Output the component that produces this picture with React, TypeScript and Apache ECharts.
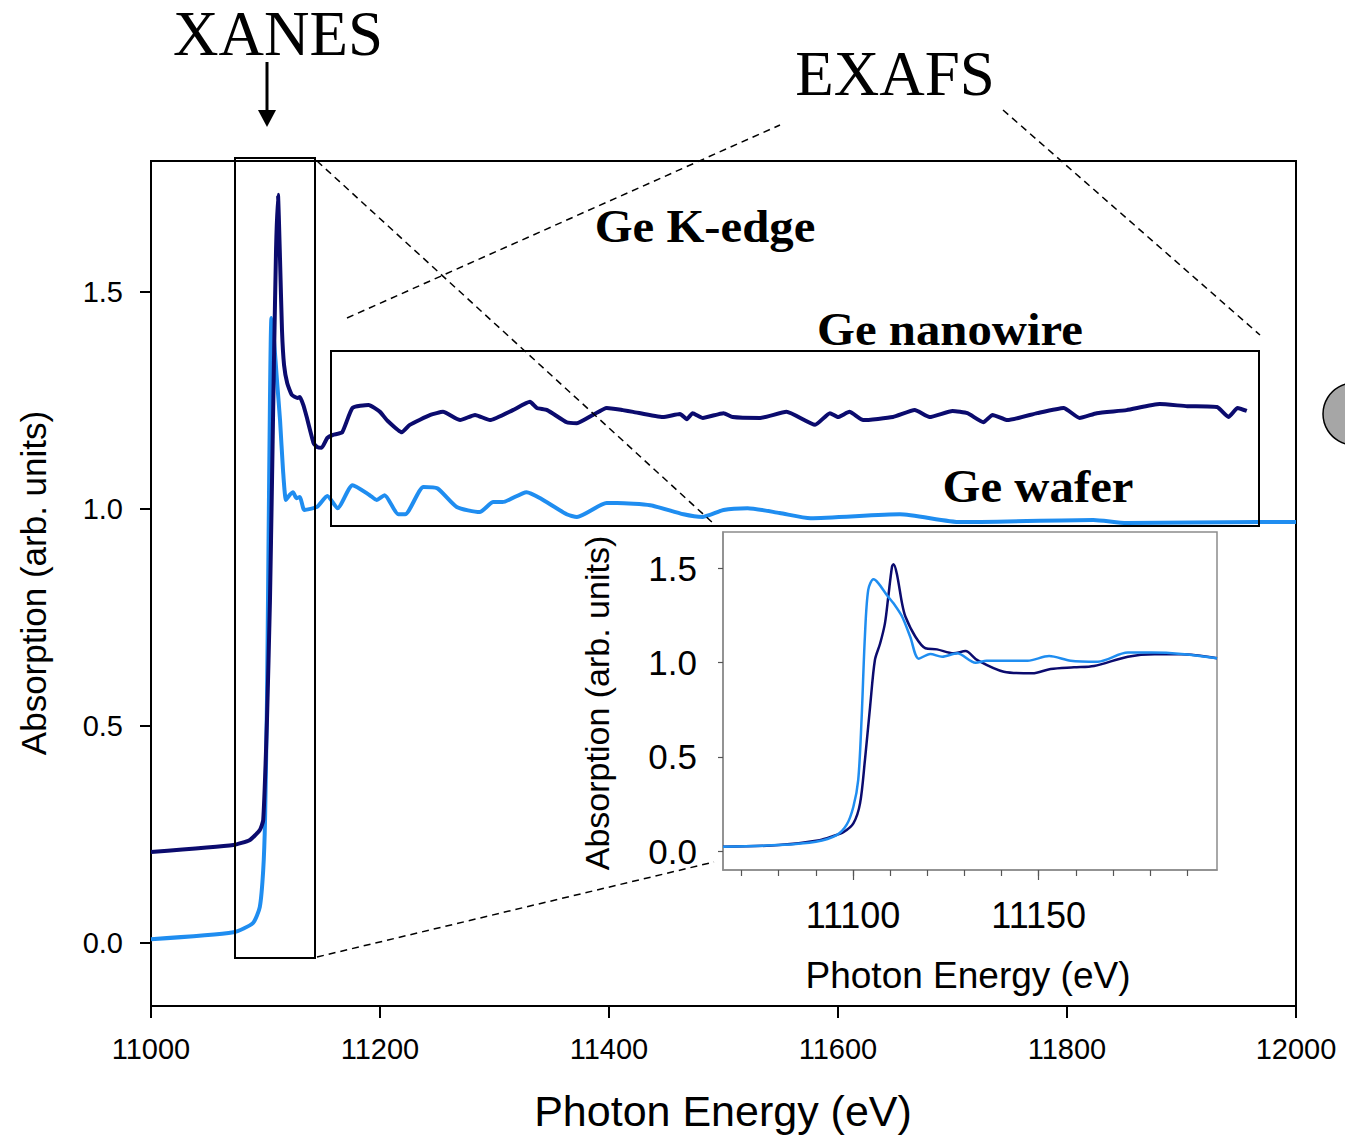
import React, { useEffect, useRef } from "react";
import * as echarts from "echarts";

// ---- Main panel data (Photon energy eV, absorption arb. units) ----
const nanowireMain: [number, number][] = [
  [11000, 0.21], [11072, 0.226], [11086, 0.237], [11095, 0.26], [11098, 0.283],
  [11101.3, 0.514], [11103.9, 0.79], [11105.7, 1.067], [11107.4, 1.343], [11109.2, 1.597],
  [11110.9, 1.724], [11112.7, 1.574], [11114.4, 1.412], [11116.2, 1.332], [11119, 1.29],
  [11123, 1.263], [11128, 1.256], [11130, 1.258], [11133, 1.24], [11136, 1.212],
  [11142, 1.152], [11145, 1.143], [11149, 1.141], [11154, 1.164], [11159, 1.171],
  [11167, 1.177], [11176, 1.233], [11190, 1.24], [11200, 1.224], [11206, 1.205],
  [11219, 1.177], [11226, 1.194], [11244, 1.217], [11255, 1.224], [11270, 1.205],
  [11283, 1.217], [11296, 1.205], [11316, 1.228], [11331, 1.247], [11337, 1.233],
  [11346, 1.228], [11363, 1.2], [11372, 1.198], [11386, 1.217], [11398, 1.233],
  [11412, 1.228], [11421, 1.224], [11447, 1.212], [11462, 1.219], [11468, 1.207],
  [11473, 1.221], [11482, 1.21], [11500, 1.221], [11508, 1.212], [11532, 1.21],
  [11555, 1.224], [11580, 1.194], [11593, 1.221], [11600, 1.212], [11610, 1.224],
  [11622, 1.205], [11648, 1.212], [11667, 1.228], [11680, 1.212], [11700, 1.226],
  [11713, 1.221], [11727, 1.2], [11735, 1.217], [11748, 1.205], [11774, 1.221],
  [11797, 1.233], [11811, 1.21], [11826, 1.221], [11852, 1.228], [11881, 1.242],
  [11905, 1.237], [11931, 1.235], [11941, 1.212], [11949, 1.233], [11957, 1.226],
];

const waferMain: [number, number][] = [
  [11000, 0.009], [11072, 0.025], [11089, 0.046], [11095, 0.083], [11098, 0.168],
  [11099.6, 0.283], [11101.3, 0.56], [11102.6, 0.906], [11103.9, 1.251], [11105.2, 1.44],
  [11107.4, 1.389], [11110, 1.297], [11112.7, 1.205], [11115.3, 1.09], [11117.9, 1.021],
  [11121, 1.032], [11124, 1.039], [11127, 1.025], [11130, 1.028], [11134, 0.998],
  [11145, 1.005], [11154, 1.03], [11163, 1.002], [11176, 1.055], [11191, 1.032],
  [11197, 1.021], [11204, 1.032], [11216, 0.988], [11222, 0.988], [11238, 1.051],
  [11250, 1.048], [11267, 1.005], [11287, 0.993], [11299, 1.016], [11307, 1.016],
  [11328, 1.039], [11340, 1.025], [11363, 0.988], [11372, 0.982], [11398, 1.014],
  [11407, 1.014], [11436, 1.009], [11465, 0.988], [11482, 0.982], [11500, 0.998],
  [11521, 1.002], [11549, 0.991], [11576, 0.979], [11654, 0.988], [11707, 0.97],
  [11823, 0.975], [11852, 0.968], [11966, 0.97], [12000, 0.97],
];

// ---- Inset (XANES region) data ----
const nanowireInset: [number, number][] = [
  [11065, 0.023], [11080, 0.032], [11091, 0.058], [11094.7, 0.08], [11097.4, 0.1],
  [11100.1, 0.147], [11101.9, 0.253], [11103.2, 0.48], [11104.6, 0.765], [11105.9, 1.013],
  [11107.3, 1.1], [11108.6, 1.207], [11109.5, 1.348], [11110.5, 1.507], [11110.9, 1.52],
  [11111.8, 1.47], [11113.2, 1.313], [11114.1, 1.243], [11116.8, 1.136], [11119.5, 1.075],
  [11122.6, 1.069], [11127.1, 1.048], [11130.3, 1.06], [11133.4, 1.013], [11140.6, 0.951],
  [11148.3, 0.942], [11153.2, 0.965], [11159.5, 0.974], [11164.9, 0.981], [11174, 1.03],
  [11181.2, 1.043], [11188.4, 1.043], [11198, 1.022],
];

const waferInset: [number, number][] = [
  [11065, 0.023], [11080, 0.032], [11090, 0.05], [11095.6, 0.085], [11098.3, 0.14],
  [11100.1, 0.235], [11101.4, 0.376], [11102.3, 0.695], [11103.2, 1.136], [11104.1, 1.384],
  [11105.5, 1.44], [11106.8, 1.42], [11109.1, 1.357], [11110.9, 1.313], [11113.2, 1.243],
  [11115.4, 1.136], [11117.7, 1.02], [11120.8, 1.045], [11124, 1.03], [11128, 1.048],
  [11133, 0.998], [11136, 1.009], [11147, 1.009], [11152.8, 1.034], [11158.6, 1.009],
  [11165.9, 1.004], [11174, 1.052], [11180.3, 1.052], [11188.4, 1.045], [11198, 1.022],
];

const mainYTicks = [0, 0.5, 1.0, 1.5];
const insetYTicks = [0, 0.5, 1.0, 1.5];
const insetXLabels = [11100, 11150];
const insetXTicks = [11070, 11080, 11090, 11100, 11110, 11120, 11130, 11140, 11150, 11160, 11170, 11180, 11190];

const DARK = "#0b0b6e";
const LIGHT = "#1f8df0";
const SANS = "'Liberation Sans', Arial, sans-serif";
const SERIF = "'Liberation Serif', 'Times New Roman', serif";

export default function App() {
  const ref = useRef<HTMLDivElement>(null);

  useEffect(() => {
    document.body.style.margin = "0";
    const chart = echarts.init(ref.current!, undefined, { renderer: "svg" });

    const boldLabel = (text: string, x: number, y: number) => ({
      type: "text",
      x,
      y,
      scaleX: 1.06,
      z: 20,
      style: {
        text,
        fontFamily: SERIF,
        fontWeight: "bold",
        fontSize: 46,
        fill: "#000",
        align: "center",
        verticalAlign: "middle",
      },
    });

    const dashed = (x1: number, y1: number, x2: number, y2: number) => ({
      type: "line",
      z: 20,
      shape: { x1, y1, x2, y2 },
      style: { stroke: "#000", lineWidth: 1.5, lineDash: [7, 5], fill: null },
    });

    const plain = (v: number) => String(v);

    chart.setOption({
      animation: false,
      backgroundColor: "#fff",
      grid: [
        { left: 151, top: 161, width: 1145, height: 845, show: true, borderColor: "#000", borderWidth: 2, backgroundColor: "transparent" },
        { left: 723, top: 532, width: 494, height: 338, show: true, borderColor: "#8c8c8c", borderWidth: 1.5, backgroundColor: "#fff", z: 5 },
      ],
      xAxis: [
        {
          type: "value",
          gridIndex: 0,
          min: 11000,
          max: 12000,
          interval: 200,
          splitLine: { show: false },
          axisLine: { onZero: false, lineStyle: { color: "#000", width: 2 } },
          axisTick: { show: true, inside: false, length: 12, lineStyle: { color: "#000", width: 2 } },
          axisLabel: { margin: 28, fontSize: 29, fontFamily: SANS, color: "#000", showMinLabel: true, showMaxLabel: true, formatter: plain },
        },
        {
          type: "value",
          gridIndex: 1,
          min: 11065,
          max: 11198,
          splitLine: { show: false },
          axisLine: { onZero: false, lineStyle: { color: "#8c8c8c", width: 1.5 } },
          axisTick: { show: true, length: 6, customValues: insetXTicks, lineStyle: { color: "#555", width: 1.2 } },
          axisLabel: { margin: 27, fontSize: 36, fontFamily: SANS, color: "#000", customValues: insetXLabels, formatter: plain },
          z: 6,
        },
        {
          type: "value",
          gridIndex: 1,
          min: 11065,
          max: 11198,
          splitLine: { show: false },
          axisLine: { show: false, onZero: false },
          axisTick: { show: true, length: 10, customValues: insetXLabels, lineStyle: { color: "#555", width: 1.2 } },
          axisLabel: { show: false },
          position: "bottom",
          z: 6,
        },
      ],
      yAxis: [
        {
          type: "value",
          gridIndex: 0,
          min: -0.145,
          max: 1.802,
          splitLine: { show: false },
          axisLine: { onZero: false, lineStyle: { color: "#000", width: 2 } },
          axisTick: { show: true, length: 11, customValues: mainYTicks, lineStyle: { color: "#000", width: 2 } },
          axisLabel: {
            margin: 28,
            fontSize: 29,
            fontFamily: SANS,
            color: "#000",
            customValues: mainYTicks,
            formatter: (v: number) => v.toFixed(1),
          },
        },
        {
          type: "value",
          gridIndex: 1,
          min: -0.1,
          max: 1.691,
          splitLine: { show: false },
          axisLine: { onZero: false, lineStyle: { color: "#8c8c8c", width: 1.5 } },
          axisTick: { show: true, length: 5, customValues: insetYTicks, lineStyle: { color: "#555", width: 1.2 } },
          axisLabel: {
            margin: 26,
            fontSize: 35,
            fontFamily: SANS,
            color: "#000",
            customValues: insetYTicks,
            formatter: (v: number) => v.toFixed(1),
          },
          z: 6,
        },
      ],
      series: [
        {
          type: "line",
          name: "Ge wafer",
          xAxisIndex: 0,
          yAxisIndex: 0,
          data: waferMain,
          showSymbol: false,
          smooth: 0.2,
          lineStyle: { color: LIGHT, width: 4, join: "round" },
          z: 3,
        },
        {
          type: "line",
          name: "Ge nanowire",
          xAxisIndex: 0,
          yAxisIndex: 0,
          data: nanowireMain,
          showSymbol: false,
          smooth: 0.15,
          lineStyle: { color: DARK, width: 4, join: "round" },
          z: 4,
        },
        {
          type: "line",
          name: "Ge nanowire (XANES)",
          xAxisIndex: 1,
          yAxisIndex: 1,
          data: nanowireInset,
          showSymbol: false,
          smooth: 0.3,
          lineStyle: { color: DARK, width: 2.5, join: "round" },
          z: 7,
        },
        {
          type: "line",
          name: "Ge wafer (XANES)",
          xAxisIndex: 1,
          yAxisIndex: 1,
          data: waferInset,
          showSymbol: false,
          smooth: 0.3,
          lineStyle: { color: LIGHT, width: 2.5, join: "round" },
          z: 8,
        },
      ],
      graphic: [
        // Axis titles
        {
          type: "text", x: 33, y: 583, rotation: Math.PI / 2, z: 20,
          style: { text: "Absorption (arb. units)", fontFamily: SANS, fontSize: 35, fill: "#000", align: "center", verticalAlign: "middle" },
        },
        {
          type: "text", x: 723, y: 1111, z: 20,
          style: { text: "Photon Energy (eV)", fontFamily: SANS, fontSize: 43, fill: "#000", align: "center", verticalAlign: "middle" },
        },
        {
          type: "text", x: 597, y: 703, rotation: Math.PI / 2, z: 20,
          style: { text: "Absorption (arb. units)", fontFamily: SANS, fontSize: 34, fill: "#000", align: "center", verticalAlign: "middle" },
        },
        {
          type: "text", x: 968, y: 975, z: 20,
          style: { text: "Photon Energy (eV)", fontFamily: SANS, fontSize: 37, fill: "#000", align: "center", verticalAlign: "middle" },
        },
        // Region labels
        {
          type: "text", x: 278, y: 34, z: 20,
          style: { text: "XANES", fontFamily: SERIF, fontSize: 63, fill: "#000", align: "center", verticalAlign: "middle" },
        },
        {
          type: "text", x: 895, y: 74, z: 20,
          style: { text: "EXAFS", fontFamily: SERIF, fontSize: 63, fill: "#000", align: "center", verticalAlign: "middle" },
        },
        // Arrow under XANES
        { type: "line", z: 20, shape: { x1: 267, y1: 62, x2: 267, y2: 112 }, style: { stroke: "#000", lineWidth: 3 } },
        { type: "polygon", z: 20, shape: { points: [[258, 110], [276, 110], [267, 127]] }, style: { fill: "#000" } },
        // Boxes
        { type: "rect", z: 20, shape: { x: 235, y: 158, width: 80, height: 800 }, style: { fill: "transparent", stroke: "#000", lineWidth: 2 } },
        { type: "rect", z: 20, shape: { x: 331, y: 351, width: 928, height: 175 }, style: { fill: "transparent", stroke: "#000", lineWidth: 2 } },
        // Dashed guide lines
        dashed(347, 318, 780, 125),
        dashed(1003, 110, 1260, 335),
        dashed(317, 161, 714, 524),
        dashed(317, 957, 714, 862),
        // Bold labels
        boldLabel("Ge K-edge", 705, 226),
        boldLabel("Ge nanowire", 950, 329),
        boldLabel("Ge wafer", 1038, 486),
        // Grey circle at the right edge
        { type: "circle", z: 20, shape: { cx: 1354, cy: 414, r: 31 }, style: { fill: "#a6a6a6", stroke: "#000", lineWidth: 1.5 } },
      ],
    });

    return () => chart.dispose();
  }, []);

  return (
    <div
      ref={ref}
      style={{ position: "absolute", left: 0, top: 0, width: 1345, height: 1138, background: "#fff" }}
    />
  );
}
